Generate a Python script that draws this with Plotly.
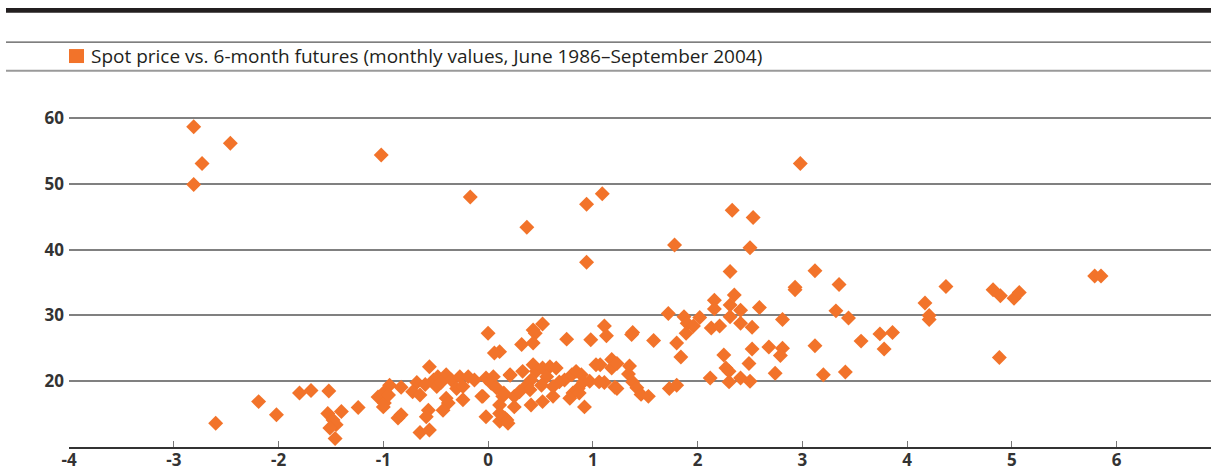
import plotly.graph_objects as go

# ---- Data ----
futures_spread = [
    -2.81, -2.73, -2.46, -2.81, -1.02, -0.17, 0.94, 1.09, 0.37, 0.94, 2.98, 2.33, 2.53, 2.50, 1.78, 2.31,
    3.12, 2.93, 2.93, 3.35, 4.37, 4.17, 4.21, 4.21, 4.82, 4.89, 5.02, 5.07, 4.88, 5.79, 5.85,
    3.32, 3.44, 3.12, 3.56, 3.74, 3.86, 3.78, 3.20, 3.41,
    2.59, 2.81, 2.68, 2.81, 2.79, 2.74,
    2.35, 2.16, 2.16, 2.31, 2.41, 2.31, 1.72, 2.02, 1.87, 1.90, 1.96, 2.13, 2.21, 2.41, 2.52,
    1.11, 1.13, 1.37, 1.38, 1.58, 1.89, 1.80, 1.84, 2.52, 2.25, 2.27, 2.30, 2.49, 2.12, 2.30, 2.41, 2.50,
    1.07, 1.18, 1.18, 1.23, 1.35, 1.34, 1.11, 1.21, 1.23, 1.38, 1.42, 1.46, 1.53, 1.73, 1.80,
    0.52, 0.43, 0.45, 0.32, 0.43, 0.75, 0.98, 0.11, 0.21, 0.33, 0.43, 0.46, 0.41, 0.37, 0.40,
    0.52, 0.59, 0.65, 0.56, 0.51, 0.14, 0.25, 0.30, 0.25, 0.41, 0.52, 0.62, 0.18, 0.11,
    0.73, 0.80, 0.84, 0.89, 0.91, 0.86, 0.81, 0.78, 0.87, 0.92, 1.03, 0.97, 1.06, 0.68, 0.62,
    0.00, 0.06, -0.02, 0.05, 0.03, -0.05, -0.02, 0.11, 0.16, 0.19, 0.21, 0.11, 0.15, 0.08,
    -2.60, -2.19, -2.02, -1.80, -1.69, -1.52, -1.53, -1.48, -1.40, -1.45, -1.51, -1.46, -1.24, -0.86,
    -1.05, -1.00, -0.99, -0.94, -0.95, -0.83, -0.68, -0.72, -0.65, -1.00,
    -0.56, -0.52, -0.48, -0.40, -0.35, -0.27, -0.19, -0.13, -0.30, -0.49, -0.24, -0.24, -0.40, -0.38,
    -0.43, -0.57, -0.59, -0.83, -0.65, -0.56, -0.06, -0.60, -0.45,
]
spot_price = [
    58.7, 53.1, 56.2, 49.9, 54.4, 48.0, 46.9, 48.5, 43.4, 38.1, 53.1, 46.0, 44.9, 40.3, 40.7, 36.7,
    36.8, 34.3, 33.9, 34.7, 34.4, 31.9, 30.0, 29.4, 33.9, 33.0, 32.6, 33.5, 23.6, 36.0, 36.0,
    30.7, 29.6, 25.4, 26.1, 27.2, 27.4, 24.9, 21.0, 21.4,
    31.2, 29.4, 25.2, 25.0, 23.9, 21.2,
    33.1, 32.3, 31.0, 31.6, 30.8, 29.8, 30.3, 29.7, 29.8, 28.8, 28.4, 28.1, 28.4, 28.8, 28.2,
    28.4, 26.9, 27.1, 27.4, 26.2, 27.3, 25.8, 23.7, 24.9, 24.0, 22.0, 21.5, 22.7, 20.5, 19.9, 20.5, 20.0,
    22.5, 23.3, 22.0, 22.7, 22.3, 21.1, 19.8, 19.1, 18.9, 19.9, 19.0, 18.0, 17.7, 18.9, 19.4,
    28.7, 27.8, 27.3, 25.6, 25.8, 26.4, 26.3, 24.5, 20.9, 21.5, 22.5, 21.5, 20.2, 19.4, 18.7,
    22.0, 22.2, 22.0, 20.7, 19.4, 17.7, 17.7, 18.4, 16.1, 16.4, 16.9, 17.7, 14.1, 13.9,
    20.2, 21.0, 21.5, 21.0, 19.9, 18.9, 18.2, 17.4, 18.2, 16.1, 22.5, 20.0, 19.9, 19.9, 19.2,
    27.3, 24.3, 20.5, 20.7, 19.7, 17.7, 14.6, 16.4, 14.4, 13.6, 21.0, 15.1, 18.2, 19.0,
    13.6, 16.9, 14.9, 18.2, 18.6, 18.5, 15.1, 14.1, 15.4, 13.4, 12.9, 11.3, 16.0, 14.4,
    17.6, 18.2, 16.7, 19.4, 17.9, 19.1, 19.8, 18.4, 17.9, 16.1,
    22.2, 20.2, 20.7, 21.0, 20.2, 20.7, 20.7, 20.2, 18.9, 19.2, 19.2, 17.2, 17.4, 16.7,
    15.6, 15.6, 14.6, 14.9, 12.2, 12.6, 17.7, 19.5, 19.8,
]
x_ticks = [-4, -3, -2, -1, 0, 1, 2, 3, 4, 5, 6]
x_tick_labels = ["-4", "-3", "-2", "-1", "0", "1", "2", "3", "4", "5", "6"]
y_ticks = [20, 30, 40, 50, 60]
y_tick_labels = ["20", "30", "40", "50", "60"]
legend_label = "Spot price vs. 6-month futures (monthly values, June 1986\u2013September 2004)"

# ---- Styling ----
ORANGE = "#F2732A"
W, H = 1211, 468
# plot area in pixels: left 69, right 1211, top 105, bottom 447.3
ML, MR, MT = 69, 0, 105
MB = H - 447.3
PW, PH = W - ML - MR, H - MT - MB


def px_x(p):  # pixel -> paper
    return (p - ML) / PW


def px_y(p):
    return (H - MB - p) / PH


fig = go.Figure()
fig.add_trace(go.Scatter(
    x=futures_spread, y=spot_price, mode="markers",
    marker=dict(symbol="diamond", size=11.5, color=ORANGE, line=dict(width=0)),
    showlegend=False, hoverinfo="x+y",
))

shapes = [
    dict(type="rect", xref="paper", yref="paper", x0=px_x(6), x1=px_x(W), y0=px_y(12.7), y1=px_y(8),
         fillcolor="#231f20", line=dict(width=0), layer="above"),
    dict(type="line", xref="paper", yref="paper", x0=px_x(6), x1=px_x(W), y0=px_y(42), y1=px_y(42),
         line=dict(color="#555555", width=1.2)),
    dict(type="line", xref="paper", yref="paper", x0=px_x(6), x1=px_x(W), y0=px_y(70.7), y1=px_y(70.7),
         line=dict(color="#9a9a9a", width=2)),
    dict(type="rect", xref="paper", yref="paper", x0=px_x(69), x1=px_x(84), y0=px_y(63), y1=px_y(49),
         fillcolor=ORANGE, line=dict(width=0)),
]

annotations = [
    dict(text=legend_label, xref="paper", yref="paper", x=px_x(89), y=px_y(56),
         xanchor="left", yanchor="middle", showarrow=False,
         font=dict(family="Open Sans", size=19, color="#231f20")),
]

fig.update_layout(
    width=W, height=H,
    margin=dict(l=ML, r=MR, t=MT, b=MB, autoexpand=False),
    paper_bgcolor="white", plot_bgcolor="white",
    shapes=shapes, annotations=annotations,
    xaxis=dict(
        range=[-4, 6.9], tickvals=x_ticks, ticktext=x_tick_labels,
        showgrid=False, zeroline=False, showline=True, linecolor="#333333", linewidth=1.5,
        ticks="inside", ticklen=6, tickwidth=1.3, tickcolor="#777777",
        ticklabelstandoff=-3,
        tickfont=dict(family="Open Sans", size=17, color="#333333", weight="bold"),
        automargin=False, fixedrange=True,
    ),
    yaxis=dict(
        range=[10, 62], tickvals=y_ticks, ticktext=y_tick_labels,
        showgrid=True, gridcolor="#808080", gridwidth=1.5, zeroline=False, showline=False,
        ticks="", ticklabelstandoff=4,
        tickfont=dict(family="Open Sans", size=17, color="#333333", weight="bold"),
        automargin=False, fixedrange=True,
    ),
)

# remove the default page margin so the figure fills the 1211x468 window exactly
fig.write_html(
    "out.html",
    config={"displayModeBar": False},
    post_script="document.body.style.margin='0';document.body.style.overflow='hidden';",
)
